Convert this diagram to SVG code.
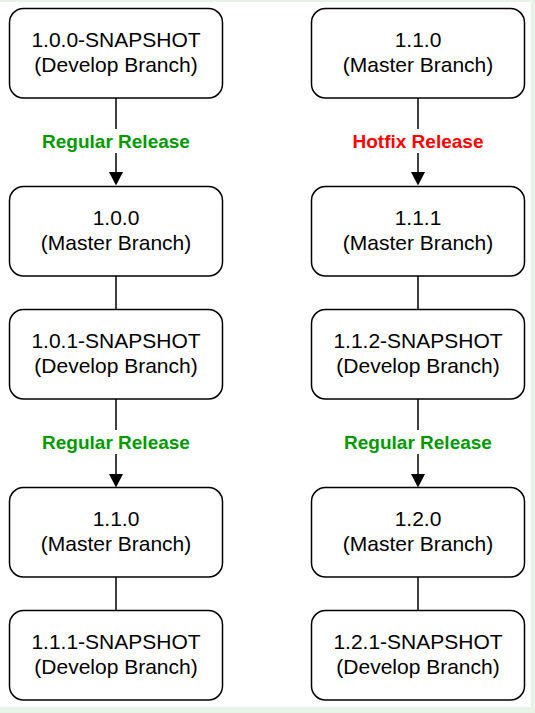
<svg xmlns="http://www.w3.org/2000/svg" width="535" height="713" viewBox="0 0 535 713">
  <defs>
    <marker id="arrow" markerUnits="userSpaceOnUse" markerWidth="14" markerHeight="14" viewBox="0 0 14 14" refX="7" refY="13" orient="auto-start-reverse">
      <path d="M0,0 L14,0 L7,13 Z" fill="#000"/>
    </marker>
    <style>
      .box { fill: #fff; stroke: #000; stroke-width: 1.5; }
      .t { font-family: "Liberation Sans", Arial, sans-serif; font-size: 21px; fill: #000; text-anchor: middle; }
      .lbl { font-family: "Liberation Sans", Arial, sans-serif; font-size: 19px; font-weight: bold; text-anchor: middle; }
      .green { fill: #009900; }
      .red { fill: #ff0000; }
      .edge { stroke: #000; stroke-width: 1.5; fill: none; }
      .arrow { marker-end: url(#arrow); }
    </style>
  </defs>
  <rect x="0" y="0" width="535" height="713" fill="#e6f3e6"/>
  <rect x="0" y="2" width="531" height="705" fill="#fff"/>

  <g id="connectors">
    <line class="edge" x1="116" y1="98" x2="116" y2="172" />
    <path d="M109,172 L123,172 L116,185.5 Z" fill="#000"/>
    <line class="edge" x1="116" y1="276" x2="116" y2="310" />
    <line class="edge" x1="116" y1="399" x2="116" y2="474" />
    <path d="M109,474 L123,474 L116,487.5 Z" fill="#000"/>
    <line class="edge" x1="116" y1="577" x2="116" y2="611" />

    <line class="edge" x1="418" y1="98" x2="418" y2="172" />
    <path d="M411,172 L425,172 L418,185.5 Z" fill="#000"/>
    <line class="edge" x1="418" y1="276" x2="418" y2="310" />
    <line class="edge" x1="418" y1="399" x2="418" y2="474" />
    <path d="M411,474 L425,474 L418,487.5 Z" fill="#000"/>
    <line class="edge" x1="418" y1="577" x2="418" y2="611" />

    <g id="label-l1">
      <rect x="38" y="129" width="156" height="24" fill="#fff"/>
      <text class="lbl green" x="116" y="148">Regular Release</text>
    </g>
    <g id="label-l2">
      <rect x="38" y="430" width="156" height="24" fill="#fff"/>
      <text class="lbl green" x="116" y="449">Regular Release</text>
    </g>
    <g id="label-r1">
      <rect x="348" y="129" width="140" height="24" fill="#fff"/>
      <text class="lbl red" x="418" y="148">Hotfix Release</text>
    </g>
    <g id="label-r2">
      <rect x="340" y="430" width="156" height="24" fill="#fff"/>
      <text class="lbl green" x="418" y="449">Regular Release</text>
    </g>
  </g>

  <g id="n-1-0-0-snapshot">
    <rect class="box" x="9.5" y="8.5" width="213" height="89.5" rx="14" ry="14"/>
    <text class="t" x="116" y="47">1.0.0-SNAPSHOT</text>
    <text class="t" x="116" y="72">(Develop Branch)</text>
  </g>
  <g id="n-1-0-0">
    <rect class="box" x="9.5" y="186.5" width="213" height="89.5" rx="14" ry="14"/>
    <text class="t" x="116" y="225">1.0.0</text>
    <text class="t" x="116" y="250">(Master Branch)</text>
  </g>
  <g id="n-1-0-1-snapshot">
    <rect class="box" x="9.5" y="309.5" width="213" height="89.5" rx="14" ry="14"/>
    <text class="t" x="116" y="348">1.0.1-SNAPSHOT</text>
    <text class="t" x="116" y="373">(Develop Branch)</text>
  </g>
  <g id="n-1-1-0-left">
    <rect class="box" x="9.5" y="487.5" width="213" height="89.5" rx="14" ry="14"/>
    <text class="t" x="116" y="526">1.1.0</text>
    <text class="t" x="116" y="551">(Master Branch)</text>
  </g>
  <g id="n-1-1-1-snapshot">
    <rect class="box" x="9.5" y="610.5" width="213" height="89.5" rx="14" ry="14"/>
    <text class="t" x="116" y="649">1.1.1-SNAPSHOT</text>
    <text class="t" x="116" y="674">(Develop Branch)</text>
  </g>

  <g id="n-1-1-0-right">
    <rect class="box" x="311.5" y="8.5" width="213" height="89.5" rx="14" ry="14"/>
    <text class="t" x="418" y="47">1.1.0</text>
    <text class="t" x="418" y="72">(Master Branch)</text>
  </g>
  <g id="n-1-1-1">
    <rect class="box" x="311.5" y="186.5" width="213" height="89.5" rx="14" ry="14"/>
    <text class="t" x="418" y="225">1.1.1</text>
    <text class="t" x="418" y="250">(Master Branch)</text>
  </g>
  <g id="n-1-1-2-snapshot">
    <rect class="box" x="311.5" y="309.5" width="213" height="89.5" rx="14" ry="14"/>
    <text class="t" x="418" y="348">1.1.2-SNAPSHOT</text>
    <text class="t" x="418" y="373">(Develop Branch)</text>
  </g>
  <g id="n-1-2-0">
    <rect class="box" x="311.5" y="487.5" width="213" height="89.5" rx="14" ry="14"/>
    <text class="t" x="418" y="526">1.2.0</text>
    <text class="t" x="418" y="551">(Master Branch)</text>
  </g>
  <g id="n-1-2-1-snapshot">
    <rect class="box" x="311.5" y="610.5" width="213" height="89.5" rx="14" ry="14"/>
    <text class="t" x="418" y="649">1.2.1-SNAPSHOT</text>
    <text class="t" x="418" y="674">(Develop Branch)</text>
  </g>
</svg>
